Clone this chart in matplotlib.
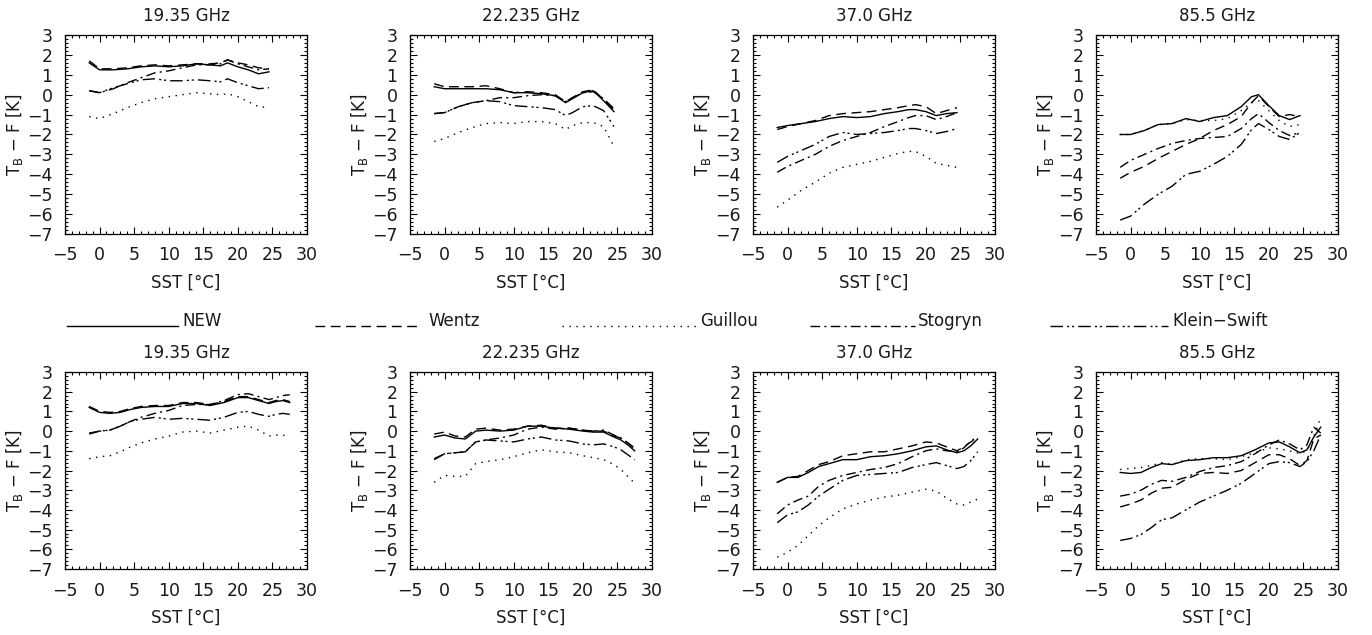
import matplotlib
matplotlib.use("Agg")
import matplotlib.pyplot as plt
from matplotlib.lines import Line2D
from matplotlib.ticker import MultipleLocator

plt.rcParams['font.family'] = ['DejaVu Sans']

# ---------------- data ----------------
FREQS = ['19.35 GHz', '22.235 GHz', '37.0 GHz', '85.5 GHz']
MODELS = ['NEW', 'Wentz', 'Guillou', 'Stogryn', 'Klein\u2212Swift']

SST_TOP = [-1.5, 0, 2, 4, 6, 8, 10, 12, 14, 16, 17.5, 18.5, 20, 21.5, 23, 24.5]
SST_BOT = [-1.5, 0, 1.5, 3, 4.5, 6, 8, 10, 12, 14, 16, 18, 20, 21.5, 23, 24.5, 25.5, 26.5, 27.5]

# top row
T19_NEW = [1.6, 1.25, 1.25, 1.3, 1.4, 1.45, 1.4, 1.45, 1.55, 1.5, 1.45, 1.6, 1.4, 1.25, 1.05, 1.15]
T19_WENTZ = [1.7, 1.3, 1.3, 1.35, 1.45, 1.5, 1.45, 1.5, 1.55, 1.55, 1.6, 1.75, 1.6, 1.5, 1.35, 1.3]
T19_GUILLOU = [-1.1, -1.2, -0.95, -0.65, -0.4, -0.2, -0.1, 0.0, 0.1, 0.05, 0.0, 0.05, -0.1, -0.35, -0.6, -0.65]
T19_STOGRYN = [0.2, 0.1, 0.3, 0.6, 0.85, 1.1, 1.2, 1.35, 1.5, 1.5, 1.55, 1.75, 1.55, 1.4, 1.25, 1.3]
T19_KLEIN = [0.2, 0.1, 0.35, 0.55, 0.75, 0.8, 0.7, 0.7, 0.75, 0.7, 0.65, 0.8, 0.6, 0.45, 0.3, 0.35]

T22_NEW = [0.4, 0.3, 0.3, 0.3, 0.3, 0.25, 0.1, 0.1, 0.05, -0.05, -0.4, -0.2, 0.1, 0.2, -0.3, -0.85]
T22_WENTZ = [0.55, 0.4, 0.4, 0.4, 0.45, 0.3, 0.1, 0.15, 0.1, 0.0, -0.35, -0.15, 0.15, 0.25, -0.25, -0.75]
T22_GUILLOU = [-2.35, -2.2, -1.9, -1.65, -1.45, -1.4, -1.45, -1.35, -1.35, -1.45, -1.75, -1.55, -1.4, -1.4, -1.6, -2.6]
T22_STOGRYN = [-0.95, -0.9, -0.6, -0.4, -0.3, -0.15, -0.15, -0.05, 0.0, -0.05, -0.35, -0.15, 0.1, 0.15, -0.2, -0.7]
T22_KLEIN = [-0.95, -0.9, -0.6, -0.4, -0.3, -0.35, -0.55, -0.6, -0.65, -0.75, -1.05, -0.9, -0.6, -0.55, -0.8, -1.6]

T37_NEW = [-1.65, -1.55, -1.45, -1.35, -1.2, -1.1, -1.15, -1.1, -0.95, -0.85, -0.75, -0.75, -0.85, -1.05, -0.95, -0.9]
T37_WENTZ = [-1.75, -1.6, -1.45, -1.3, -1.05, -0.95, -0.9, -0.85, -0.75, -0.65, -0.55, -0.5, -0.6, -0.95, -0.8, -0.65]
T37_GUILLOU = [-5.65, -5.3, -4.8, -4.4, -3.95, -3.65, -3.5, -3.35, -3.15, -2.95, -2.85, -2.85, -3.1, -3.45, -3.55, -3.65]
T37_STOGRYN = [-3.9, -3.6, -3.3, -3.0, -2.6, -2.3, -2.1, -1.9, -1.6, -1.35, -1.15, -1.05, -1.05, -1.25, -1.1, -0.9]
T37_KLEIN = [-3.4, -3.1, -2.8, -2.5, -2.1, -1.9, -2.0, -1.95, -1.9, -1.8, -1.7, -1.7, -1.8, -1.95, -1.85, -1.7]

T85_NEW = [-2.0, -2.0, -1.8, -1.5, -1.45, -1.2, -1.35, -1.15, -1.05, -0.6, -0.1, 0.0, -0.55, -1.05, -1.25, -1.05]
T85_WENTZ = [-4.2, -3.9, -3.6, -3.2, -2.85, -2.5, -2.2, -1.8, -1.5, -1.1, -0.4, -0.05, -0.6, -1.1, -1.0, -1.1]
T85_GUILLOU = [-2.0, -2.0, -1.8, -1.5, -1.45, -1.25, -1.3, -1.3, -1.2, -0.8, -0.4, -0.3, -0.8, -1.3, -1.6, -1.5]
T85_STOGRYN = [-3.65, -3.3, -3.0, -2.7, -2.45, -2.3, -2.2, -2.15, -2.1, -1.7, -1.2, -0.95, -1.4, -1.8, -2.05, -1.9]
T85_KLEIN = [-6.3, -6.1, -5.5, -5.0, -4.6, -4.0, -3.85, -3.5, -3.1, -2.5, -1.75, -1.45, -1.75, -2.1, -2.25, -1.9]

# bottom row
B19_NEW = [1.2, 0.95, 0.9, 0.95, 1.1, 1.2, 1.25, 1.25, 1.4, 1.4, 1.3, 1.45, 1.7, 1.7, 1.55, 1.4, 1.5, 1.55, 1.45]
B19_WENTZ = [1.25, 1.0, 0.95, 1.0, 1.15, 1.25, 1.3, 1.3, 1.45, 1.45, 1.35, 1.5, 1.75, 1.75, 1.6, 1.45, 1.55, 1.6, 1.5]
B19_GUILLOU = [-1.4, -1.3, -1.25, -1.05, -0.8, -0.6, -0.4, -0.25, -0.05, 0.0, -0.1, 0.05, 0.2, 0.25, 0.05, -0.25, -0.2, -0.2, -0.3]
B19_STOGRYN = [-0.1, 0.0, 0.05, 0.25, 0.5, 0.7, 0.9, 1.05, 1.3, 1.35, 1.35, 1.55, 1.85, 1.9, 1.75, 1.6, 1.7, 1.8, 1.85]
B19_KLEIN = [-0.15, 0.0, 0.05, 0.25, 0.5, 0.6, 0.7, 0.6, 0.65, 0.6, 0.55, 0.7, 0.95, 1.0, 0.85, 0.75, 0.85, 0.9, 0.85]

B22_NEW = [-0.3, -0.2, -0.35, -0.4, 0.0, 0.05, 0.0, 0.05, 0.25, 0.25, 0.15, 0.1, 0.0, -0.05, -0.05, -0.3, -0.45, -0.7, -1.0]
B22_WENTZ = [-0.15, -0.05, -0.25, -0.3, 0.1, 0.15, 0.05, 0.1, 0.25, 0.3, 0.15, 0.15, 0.05, 0.0, 0.0, -0.25, -0.35, -0.6, -0.9]
B22_GUILLOU = [-2.6, -2.25, -2.3, -2.3, -1.65, -1.55, -1.45, -1.3, -1.1, -0.95, -1.05, -1.1, -1.25, -1.35, -1.45, -1.7, -1.95, -2.3, -2.65]
B22_STOGRYN = [-1.4, -1.15, -1.1, -1.05, -0.55, -0.45, -0.35, -0.2, 0.1, 0.2, 0.1, 0.15, 0.05, 0.0, 0.05, -0.2, -0.35, -0.6, -0.85]
B22_KLEIN = [-1.45, -1.15, -1.1, -1.05, -0.55, -0.45, -0.5, -0.55, -0.4, -0.3, -0.45, -0.5, -0.65, -0.7, -0.65, -0.8, -0.95, -1.2, -1.45]

B37_NEW = [-2.6, -2.35, -2.35, -2.1, -1.8, -1.65, -1.45, -1.45, -1.3, -1.25, -1.15, -1.0, -0.8, -0.75, -0.95, -1.1, -1.0, -0.75, -0.4]
B37_WENTZ = [-2.6, -2.35, -2.3, -2.0, -1.7, -1.55, -1.25, -1.15, -1.05, -1.05, -0.9, -0.75, -0.55, -0.6, -0.8, -1.0, -0.8, -0.55, -0.35]
B37_GUILLOU = [-6.4, -6.15, -5.8, -5.3, -4.8, -4.4, -3.95, -3.7, -3.5, -3.35, -3.25, -3.1, -2.95, -3.05, -3.4, -3.7, -3.75, -3.6, -3.45]
B37_STOGRYN = [-4.2, -3.75, -3.5, -3.3, -2.8, -2.5, -2.25, -2.1, -1.95, -1.85, -1.65, -1.3, -1.0, -0.9, -1.0, -1.05, -0.85, -0.5, -0.3]
B37_KLEIN = [-4.65, -4.25, -4.1, -3.75, -3.3, -2.95, -2.5, -2.25, -2.2, -2.15, -2.1, -1.85, -1.7, -1.6, -1.75, -1.9, -1.8, -1.5, -1.05]

B85_NEW = [-2.1, -2.15, -2.1, -1.85, -1.65, -1.7, -1.5, -1.45, -1.35, -1.35, -1.25, -0.95, -0.6, -0.55, -0.8, -1.1, -0.95, -0.3, 0.2]
B85_WENTZ = [-3.85, -3.7, -3.5, -3.15, -2.9, -2.85, -2.45, -2.15, -2.1, -2.15, -2.0, -1.6, -1.2, -1.2, -1.4, -1.75, -1.5, -0.4, -0.2]
B85_GUILLOU = [-1.95, -1.9, -1.85, -1.75, -1.6, -1.7, -1.45, -1.4, -1.4, -1.45, -1.3, -1.1, -0.85, -0.9, -1.0, -1.15, -1.0, -0.3, 0.7]
B85_STOGRYN = [-3.3, -3.2, -3.0, -2.7, -2.5, -2.55, -2.35, -2.05, -1.85, -1.75, -1.55, -1.15, -0.7, -0.45, -0.65, -0.95, -0.7, 0.2, -0.1]
B85_KLEIN = [-5.55, -5.45, -5.25, -4.9, -4.5, -4.4, -4.0, -3.6, -3.3, -3.0, -2.65, -2.15, -1.65, -1.55, -1.6, -1.8, -1.55, -1.0, -0.2]

TOP_ROW = [
    [T19_NEW, T19_WENTZ, T19_GUILLOU, T19_STOGRYN, T19_KLEIN],
    [T22_NEW, T22_WENTZ, T22_GUILLOU, T22_STOGRYN, T22_KLEIN],
    [T37_NEW, T37_WENTZ, T37_GUILLOU, T37_STOGRYN, T37_KLEIN],
    [T85_NEW, T85_WENTZ, T85_GUILLOU, T85_STOGRYN, T85_KLEIN],
]
BOT_ROW = [
    [B19_NEW, B19_WENTZ, B19_GUILLOU, B19_STOGRYN, B19_KLEIN],
    [B22_NEW, B22_WENTZ, B22_GUILLOU, B22_STOGRYN, B22_KLEIN],
    [B37_NEW, B37_WENTZ, B37_GUILLOU, B37_STOGRYN, B37_KLEIN],
    [B85_NEW, B85_WENTZ, B85_GUILLOU, B85_STOGRYN, B85_KLEIN],
]

# ---------------- styling ----------------
STYLES = ['-', (0, (7, 4)), (0, (1, 4)), (0, (7, 3, 1.5, 3)), (0, (9, 3, 1.5, 2, 1.5, 3))]
TXT = '#1a1a1a'
W, H = 1372, 635
fig = plt.figure(figsize=(W / 100, H / 100), dpi=100)

lefts_px = [65, 410, 753, 1096]
ax_w = 242 / W
rows = [(35, 234, SST_TOP, TOP_ROW), (372, 569, SST_BOT, BOT_ROW)]
YLABEL = 'T$_\\mathrm{B}$ \u2212 F [K]'

for top_px, bot_px, sst, rowdata in rows:
    for j, lpx in enumerate(lefts_px):
        ax = fig.add_axes([lpx / W, 1 - bot_px / H, ax_w, (bot_px - top_px) / H])
        for k, series in enumerate(rowdata[j]):
            ax.plot(sst, series, color='black', lw=1.0, linestyle=STYLES[k])
        ax.set_xlim(-5, 30)
        ax.set_ylim(-7, 3)
        ax.xaxis.set_major_locator(MultipleLocator(5))
        ax.xaxis.set_minor_locator(MultipleLocator(1))
        ax.yaxis.set_major_locator(MultipleLocator(1))
        ax.yaxis.set_minor_locator(MultipleLocator(0.2))
        ax.tick_params(which='both', direction='in', top=True, right=True,
                       labelsize=12.5, colors='black', labelcolor=TXT, width=0.8)
        ax.tick_params(which='major', length=5, pad=9)
        ax.tick_params(which='minor', length=2.5)
        for s in ax.spines.values():
            s.set_linewidth(0.9)
        ax.set_title(FREQS[j], fontsize=12, pad=10, color=TXT)
        ax.set_xlabel('SST [\u00b0C]', fontsize=12, labelpad=7, color=TXT)
        ax.set_ylabel(YLABEL, fontsize=12, labelpad=1, color=TXT)

# ---------------- legend (drawn as in the original) ----------------
leg_y_line = 1 - 326 / H
leg_y_text = 1 - 321 / H
LEG_LINES_PX = [(67, 178), (315, 420), (562, 697), (810, 915), (1050, 1168)]
LEG_TEXT_PX = [182, 428, 700, 918, 1172]
for k, name in enumerate(MODELS):
    x0, x1 = LEG_LINES_PX[k]
    fig.add_artist(Line2D([x0 / W, x1 / W], [leg_y_line, leg_y_line],
                          transform=fig.transFigure, color='black', lw=1.0,
                          linestyle=STYLES[k]))
    fig.text(LEG_TEXT_PX[k] / W, leg_y_text, name, fontsize=12,
             ha='left', va='center', color=TXT)

fig.savefig('out.png', dpi=100)
